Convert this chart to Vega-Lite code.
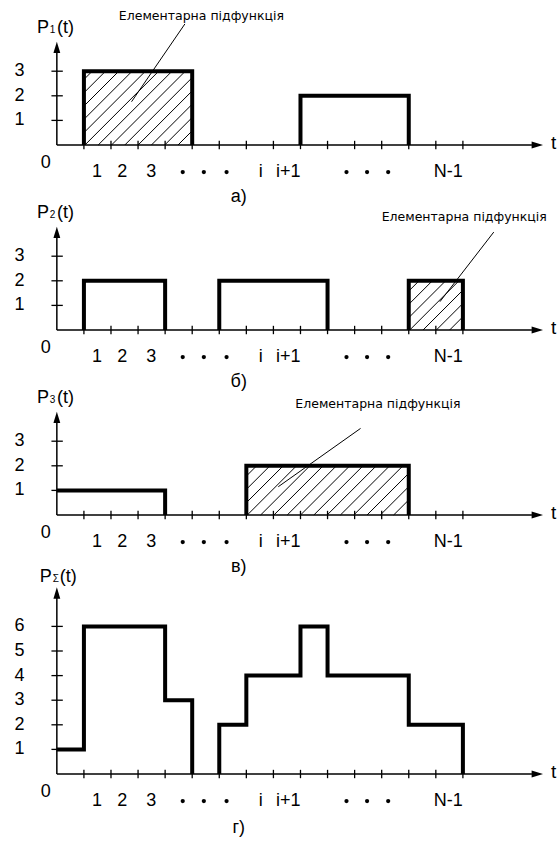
{
"$schema":"https://vega.github.io/schema/vega-lite/v6.json",
"padding":0,
"background":"white",
"spacing":0,
"bounds":"flush",
"config":{"view":{"stroke":null},"axis":{"disable":true},"text":{"font":"Liberation Sans","color":"black"},"rule":{"color":"black"},"line":{"color":"black"}},
"datasets":{
"pulse":[
{"panel":"a","seg":1,"ord":1,"t":1,"p":0},{"panel":"a","seg":1,"ord":2,"t":1,"p":3},{"panel":"a","seg":1,"ord":3,"t":5,"p":3},{"panel":"a","seg":1,"ord":4,"t":5,"p":0},
{"panel":"a","seg":2,"ord":1,"t":9,"p":0},{"panel":"a","seg":2,"ord":2,"t":9,"p":2},{"panel":"a","seg":2,"ord":3,"t":13,"p":2},{"panel":"a","seg":2,"ord":4,"t":13,"p":0},
{"panel":"b","seg":1,"ord":1,"t":1,"p":0},{"panel":"b","seg":1,"ord":2,"t":1,"p":2},{"panel":"b","seg":1,"ord":3,"t":4,"p":2},{"panel":"b","seg":1,"ord":4,"t":4,"p":0},
{"panel":"b","seg":2,"ord":1,"t":6,"p":0},{"panel":"b","seg":2,"ord":2,"t":6,"p":2},{"panel":"b","seg":2,"ord":3,"t":10,"p":2},{"panel":"b","seg":2,"ord":4,"t":10,"p":0},
{"panel":"b","seg":3,"ord":1,"t":13,"p":0},{"panel":"b","seg":3,"ord":2,"t":13,"p":2},{"panel":"b","seg":3,"ord":3,"t":15,"p":2},{"panel":"b","seg":3,"ord":4,"t":15,"p":0},
{"panel":"c","seg":1,"ord":1,"t":0,"p":1},{"panel":"c","seg":1,"ord":2,"t":4,"p":1},{"panel":"c","seg":1,"ord":3,"t":4,"p":0},
{"panel":"c","seg":2,"ord":1,"t":7,"p":0},{"panel":"c","seg":2,"ord":2,"t":7,"p":2},{"panel":"c","seg":2,"ord":3,"t":13,"p":2},{"panel":"c","seg":2,"ord":4,"t":13,"p":0},
{"panel":"d","seg":1,"ord":1,"t":0,"p":1},{"panel":"d","seg":1,"ord":2,"t":1,"p":1},{"panel":"d","seg":1,"ord":3,"t":1,"p":6},{"panel":"d","seg":1,"ord":4,"t":4,"p":6},{"panel":"d","seg":1,"ord":5,"t":4,"p":3},{"panel":"d","seg":1,"ord":6,"t":5,"p":3},{"panel":"d","seg":1,"ord":7,"t":5,"p":0},
{"panel":"d","seg":2,"ord":1,"t":6,"p":0},{"panel":"d","seg":2,"ord":2,"t":6,"p":2},{"panel":"d","seg":2,"ord":3,"t":7,"p":2},{"panel":"d","seg":2,"ord":4,"t":7,"p":4},{"panel":"d","seg":2,"ord":5,"t":9,"p":4},{"panel":"d","seg":2,"ord":6,"t":9,"p":6},{"panel":"d","seg":2,"ord":7,"t":10,"p":6},{"panel":"d","seg":2,"ord":8,"t":10,"p":4},{"panel":"d","seg":2,"ord":9,"t":13,"p":4},{"panel":"d","seg":2,"ord":10,"t":13,"p":2},{"panel":"d","seg":2,"ord":11,"t":15,"p":2},{"panel":"d","seg":2,"ord":12,"t":15,"p":0}
],
"hatch":[
{"panel":"a","t":1,"p":2.663,"t2":1.307,"p2":3},
{"panel":"a","t":1,"p":2.122,"t2":1.798,"p2":3},
{"panel":"a","t":1,"p":1.581,"t2":2.289,"p2":3},
{"panel":"a","t":1,"p":1.041,"t2":2.781,"p2":3},
{"panel":"a","t":1,"p":0.5,"t2":3.272,"p2":3},
{"panel":"a","t":1.037,"p":0,"t2":3.763,"p2":3},
{"panel":"a","t":1.528,"p":0,"t2":4.255,"p2":3},
{"panel":"a","t":2.02,"p":0,"t2":4.746,"p2":3},
{"panel":"a","t":2.511,"p":0,"t2":5,"p2":2.74},
{"panel":"a","t":3.002,"p":0,"t2":5,"p2":2.199},
{"panel":"a","t":3.494,"p":0,"t2":5,"p2":1.659},
{"panel":"a","t":3.985,"p":0,"t2":5,"p2":1.118},
{"panel":"a","t":4.476,"p":0,"t2":5,"p2":0.577},
{"panel":"b","t":13,"p":1.581,"t2":13.38,"p2":2},
{"panel":"b","t":13,"p":1.041,"t2":13.872,"p2":2},
{"panel":"b","t":13,"p":0.5,"t2":14.363,"p2":2},
{"panel":"b","t":13.037,"p":0,"t2":14.854,"p2":2},
{"panel":"b","t":13.528,"p":0,"t2":15,"p2":1.62},
{"panel":"b","t":14.02,"p":0,"t2":15,"p2":1.079},
{"panel":"b","t":14.511,"p":0,"t2":15,"p2":0.538},
{"panel":"c","t":7,"p":1.581,"t2":7.38,"p2":2},
{"panel":"c","t":7,"p":1.041,"t2":7.872,"p2":2},
{"panel":"c","t":7,"p":0.5,"t2":8.363,"p2":2},
{"panel":"c","t":7.037,"p":0,"t2":8.854,"p2":2},
{"panel":"c","t":7.528,"p":0,"t2":9.346,"p2":2},
{"panel":"c","t":8.02,"p":0,"t2":9.837,"p2":2},
{"panel":"c","t":8.511,"p":0,"t2":10.328,"p2":2},
{"panel":"c","t":9.002,"p":0,"t2":10.82,"p2":2},
{"panel":"c","t":9.494,"p":0,"t2":11.311,"p2":2},
{"panel":"c","t":9.985,"p":0,"t2":11.802,"p2":2},
{"panel":"c","t":10.476,"p":0,"t2":12.294,"p2":2},
{"panel":"c","t":10.968,"p":0,"t2":12.785,"p2":2},
{"panel":"c","t":11.459,"p":0,"t2":13,"p2":1.695},
{"panel":"c","t":11.95,"p":0,"t2":13,"p2":1.154},
{"panel":"c","t":12.441,"p":0,"t2":13,"p2":0.614}
],
"xticks":[{"t":1},{"t":2},{"t":3},{"t":4},{"t":5},{"t":6},{"t":7},{"t":8},{"t":9},{"t":10},{"t":11},{"t":12},{"t":13},{"t":14},{"t":15}],
"xlabels":[{"label":"1","t":1.48},{"label":"2","t":2.42},{"label":"3","t":3.49},{"label":"i","t":7.53},{"label":"i+1","t":8.55},{"label":"N-1","t":14.46}],
"dots":[{"t":4.65},{"t":5.43},{"t":6.27},{"t":10.7},{"t":11.46},{"t":12.24}],
"yticks":[
{"panel":"a","p":1},{"panel":"a","p":2},{"panel":"a","p":3},
{"panel":"b","p":1},{"panel":"b","p":2},{"panel":"b","p":3},
{"panel":"c","p":1},{"panel":"c","p":2},{"panel":"c","p":3},
{"panel":"d","p":1},{"panel":"d","p":2},{"panel":"d","p":3},{"panel":"d","p":4},{"panel":"d","p":5},{"panel":"d","p":6}
],
"notes":[
{"panel":"a","label":"Елементарна підфункція","t":5.34,"p":5.24,"lt":4.73,"lp":4.92,"lt2":2.76,"lp2":1.76},
{"panel":"b","label":"Елементарна підфункція","t":15.05,"p":4.59,"lt":16.14,"lp":3.98,"lt2":14.15,"lp2":1.15},
{"panel":"c","label":"Елементарна підфункція","t":11.86,"p":4.51,"lt":11.22,"lp":3.52,"lt2":8.18,"lp2":1.15}
]
},
"vconcat":[
{
"width":559,"height":200,
"data":{"values":[{}]},
"layer":[
{"mark":{"type":"rule","strokeWidth":1.5},"encoding":{"x":{"datum":0,"type":"quantitative","scale":{"domain":[-2.1,18.55],"nice":false,"zero":false}},"x2":{"datum":17.55},"y":{"datum":0,"type":"quantitative","scale":{"domain":[-2.2358,5.8943],"nice":false,"zero":false}}}},
{"mark":{"type":"point","shape":"M-1,-0.6L1,0L-1,0.6Z","filled":true,"size":130,"color":"black","opacity":1,"strokeWidth":0},"encoding":{"x":{"datum":17.75,"type":"quantitative"},"y":{"datum":0,"type":"quantitative"}}},
{"mark":{"type":"rule","strokeWidth":1.5},"encoding":{"x":{"datum":0,"type":"quantitative"},"y":{"datum":0,"type":"quantitative"},"y2":{"datum":3.76}}},
{"mark":{"type":"point","shape":"M-0.6,1L0,-1L0.6,1Z","filled":true,"size":130,"color":"black","opacity":1,"strokeWidth":0},"encoding":{"x":{"datum":0,"type":"quantitative"},"y":{"datum":3.97,"type":"quantitative"}}},
{"data":{"name":"xticks"},"mark":{"type":"rule","strokeWidth":1.3},"encoding":{"x":{"field":"t","type":"quantitative"},"y":{"datum":-0.17,"type":"quantitative"},"y2":{"datum":0.17}}},
{"data":{"name":"yticks"},"transform":[{"filter":"datum.panel==='a'"}],"mark":{"type":"rule","strokeWidth":1.3},"encoding":{"y":{"field":"p","type":"quantitative"},"x":{"datum":-0.2,"type":"quantitative"},"x2":{"datum":0.22}}},
{"data":{"name":"yticks"},"transform":[{"filter":"datum.panel==='a'"}],"mark":{"type":"text","fontSize":18,"align":"center","baseline":"middle"},"encoding":{"y":{"field":"p","type":"quantitative"},"x":{"datum":-1.38,"type":"quantitative"},"text":{"field":"p","type":"quantitative"}}},
{"data":{"name":"xlabels"},"mark":{"type":"text","fontSize":18,"align":"center","baseline":"middle"},"encoding":{"x":{"field":"t","type":"quantitative"},"y":{"datum":-1.1,"type":"quantitative"},"text":{"field":"label"}}},
{"data":{"name":"dots"},"mark":{"type":"point","shape":"circle","filled":true,"size":18,"color":"black","opacity":1,"strokeWidth":0},"encoding":{"x":{"field":"t","type":"quantitative"},"y":{"datum":-1.1,"type":"quantitative"}}},
{"mark":{"type":"text","text":"0","fontSize":18,"align":"center","baseline":"middle"},"encoding":{"x":{"datum":-0.41,"type":"quantitative"},"y":{"datum":-0.74,"type":"quantitative"}}},
{"mark":{"type":"text","text":"t","fontSize":19,"align":"left","baseline":"middle"},"encoding":{"x":{"datum":18.25,"type":"quantitative"},"y":{"datum":0.1,"type":"quantitative"}}},
{"mark":{"type":"text","text":"P","fontSize":18,"align":"left","baseline":"alphabetic"},"encoding":{"x":{"datum":-0.73,"type":"quantitative"},"y":{"datum":4.54,"type":"quantitative"}}},
{"mark":{"type":"text","text":"1","fontSize":10,"align":"left","baseline":"alphabetic"},"encoding":{"x":{"datum":-0.26,"type":"quantitative"},"y":{"datum":4.54,"type":"quantitative"}}},
{"mark":{"type":"text","text":"(t)","fontSize":18,"align":"left","baseline":"alphabetic"},"encoding":{"x":{"datum":0.01,"type":"quantitative"},"y":{"datum":4.54,"type":"quantitative"}}},
{"mark":{"type":"text","text":"а)","fontSize":18,"align":"center","baseline":"middle"},"encoding":{"x":{"datum":6.72,"type":"quantitative"},"y":{"datum":-2.1,"type":"quantitative"}}},
{"data":{"name":"hatch"},"transform":[{"filter":"datum.panel==='a'"}],"mark":{"type":"rule","strokeWidth":1},"encoding":{"x":{"field":"t","type":"quantitative"},"y":{"field":"p","type":"quantitative"},"x2":{"field":"t2"},"y2":{"field":"p2"}}},
{"data":{"name":"pulse"},"transform":[{"filter":"datum.panel==='a'"}],"mark":{"type":"line","strokeWidth":4,"strokeJoin":"miter","strokeCap":"butt"},"encoding":{"x":{"field":"t","type":"quantitative"},"y":{"field":"p","type":"quantitative"},"detail":{"field":"seg"},"order":{"field":"ord"}}},
{"data":{"name":"notes"},"transform":[{"filter":"datum.panel==='a'"}],"mark":{"type":"rule","strokeWidth":1},"encoding":{"x":{"field":"lt","type":"quantitative"},"y":{"field":"lp","type":"quantitative"},"x2":{"field":"lt2"},"y2":{"field":"lp2"}}},
{"data":{"name":"notes"},"transform":[{"filter":"datum.panel==='a'"}],"mark":{"type":"text","font":"DejaVu Sans","fontSize":12.5,"align":"center","baseline":"middle"},"encoding":{"x":{"field":"t","type":"quantitative"},"y":{"field":"p","type":"quantitative"},"text":{"field":"label"}}}
]
},
{
"width":559,"height":185,
"data":{"values":[{}]},
"layer":[
{"mark":{"type":"rule","strokeWidth":1.5},"encoding":{"x":{"datum":0,"type":"quantitative","scale":{"domain":[-2.1,18.55],"nice":false,"zero":false}},"x2":{"datum":17.55},"y":{"datum":0,"type":"quantitative","scale":{"domain":[-2.2358,5.2846],"nice":false,"zero":false}}}},
{"mark":{"type":"point","shape":"M-1,-0.6L1,0L-1,0.6Z","filled":true,"size":130,"color":"black","opacity":1,"strokeWidth":0},"encoding":{"x":{"datum":17.75,"type":"quantitative"},"y":{"datum":0,"type":"quantitative"}}},
{"mark":{"type":"rule","strokeWidth":1.5},"encoding":{"x":{"datum":0,"type":"quantitative"},"y":{"datum":0,"type":"quantitative"},"y2":{"datum":3.76}}},
{"mark":{"type":"point","shape":"M-0.6,1L0,-1L0.6,1Z","filled":true,"size":130,"color":"black","opacity":1,"strokeWidth":0},"encoding":{"x":{"datum":0,"type":"quantitative"},"y":{"datum":3.97,"type":"quantitative"}}},
{"data":{"name":"xticks"},"mark":{"type":"rule","strokeWidth":1.3},"encoding":{"x":{"field":"t","type":"quantitative"},"y":{"datum":-0.17,"type":"quantitative"},"y2":{"datum":0.17}}},
{"data":{"name":"yticks"},"transform":[{"filter":"datum.panel==='b'"}],"mark":{"type":"rule","strokeWidth":1.3},"encoding":{"y":{"field":"p","type":"quantitative"},"x":{"datum":-0.2,"type":"quantitative"},"x2":{"datum":0.22}}},
{"data":{"name":"yticks"},"transform":[{"filter":"datum.panel==='b'"}],"mark":{"type":"text","fontSize":18,"align":"center","baseline":"middle"},"encoding":{"y":{"field":"p","type":"quantitative"},"x":{"datum":-1.38,"type":"quantitative"},"text":{"field":"p","type":"quantitative"}}},
{"data":{"name":"xlabels"},"mark":{"type":"text","fontSize":18,"align":"center","baseline":"middle"},"encoding":{"x":{"field":"t","type":"quantitative"},"y":{"datum":-1.1,"type":"quantitative"},"text":{"field":"label"}}},
{"data":{"name":"dots"},"mark":{"type":"point","shape":"circle","filled":true,"size":18,"color":"black","opacity":1,"strokeWidth":0},"encoding":{"x":{"field":"t","type":"quantitative"},"y":{"datum":-1.1,"type":"quantitative"}}},
{"mark":{"type":"text","text":"0","fontSize":18,"align":"center","baseline":"middle"},"encoding":{"x":{"datum":-0.41,"type":"quantitative"},"y":{"datum":-0.74,"type":"quantitative"}}},
{"mark":{"type":"text","text":"t","fontSize":19,"align":"left","baseline":"middle"},"encoding":{"x":{"datum":18.25,"type":"quantitative"},"y":{"datum":0.1,"type":"quantitative"}}},
{"mark":{"type":"text","text":"P","fontSize":18,"align":"left","baseline":"alphabetic"},"encoding":{"x":{"datum":-0.73,"type":"quantitative"},"y":{"datum":4.54,"type":"quantitative"}}},
{"mark":{"type":"text","text":"2","fontSize":10,"align":"left","baseline":"alphabetic"},"encoding":{"x":{"datum":-0.26,"type":"quantitative"},"y":{"datum":4.54,"type":"quantitative"}}},
{"mark":{"type":"text","text":"(t)","fontSize":18,"align":"left","baseline":"alphabetic"},"encoding":{"x":{"datum":0.01,"type":"quantitative"},"y":{"datum":4.54,"type":"quantitative"}}},
{"mark":{"type":"text","text":"б)","fontSize":18,"align":"center","baseline":"middle"},"encoding":{"x":{"datum":6.72,"type":"quantitative"},"y":{"datum":-2.1,"type":"quantitative"}}},
{"data":{"name":"hatch"},"transform":[{"filter":"datum.panel==='b'"}],"mark":{"type":"rule","strokeWidth":1},"encoding":{"x":{"field":"t","type":"quantitative"},"y":{"field":"p","type":"quantitative"},"x2":{"field":"t2"},"y2":{"field":"p2"}}},
{"data":{"name":"pulse"},"transform":[{"filter":"datum.panel==='b'"}],"mark":{"type":"line","strokeWidth":4,"strokeJoin":"miter","strokeCap":"butt"},"encoding":{"x":{"field":"t","type":"quantitative"},"y":{"field":"p","type":"quantitative"},"detail":{"field":"seg"},"order":{"field":"ord"}}},
{"data":{"name":"notes"},"transform":[{"filter":"datum.panel==='b'"}],"mark":{"type":"rule","strokeWidth":1},"encoding":{"x":{"field":"lt","type":"quantitative"},"y":{"field":"lp","type":"quantitative"},"x2":{"field":"lt2"},"y2":{"field":"lp2"}}},
{"data":{"name":"notes"},"transform":[{"filter":"datum.panel==='b'"}],"mark":{"type":"text","font":"DejaVu Sans","fontSize":12.5,"align":"center","baseline":"middle"},"encoding":{"x":{"field":"t","type":"quantitative"},"y":{"field":"p","type":"quantitative"},"text":{"field":"label"}}}
]
},
{
"width":559,"height":185,
"data":{"values":[{}]},
"layer":[
{"mark":{"type":"rule","strokeWidth":1.5},"encoding":{"x":{"datum":0,"type":"quantitative","scale":{"domain":[-2.1,18.55],"nice":false,"zero":false}},"x2":{"datum":17.55},"y":{"datum":0,"type":"quantitative","scale":{"domain":[-2.2358,5.2846],"nice":false,"zero":false}}}},
{"mark":{"type":"point","shape":"M-1,-0.6L1,0L-1,0.6Z","filled":true,"size":130,"color":"black","opacity":1,"strokeWidth":0},"encoding":{"x":{"datum":17.75,"type":"quantitative"},"y":{"datum":0,"type":"quantitative"}}},
{"mark":{"type":"rule","strokeWidth":1.5},"encoding":{"x":{"datum":0,"type":"quantitative"},"y":{"datum":0,"type":"quantitative"},"y2":{"datum":3.76}}},
{"mark":{"type":"point","shape":"M-0.6,1L0,-1L0.6,1Z","filled":true,"size":130,"color":"black","opacity":1,"strokeWidth":0},"encoding":{"x":{"datum":0,"type":"quantitative"},"y":{"datum":3.97,"type":"quantitative"}}},
{"data":{"name":"xticks"},"mark":{"type":"rule","strokeWidth":1.3},"encoding":{"x":{"field":"t","type":"quantitative"},"y":{"datum":-0.17,"type":"quantitative"},"y2":{"datum":0.17}}},
{"data":{"name":"yticks"},"transform":[{"filter":"datum.panel==='c'"}],"mark":{"type":"rule","strokeWidth":1.3},"encoding":{"y":{"field":"p","type":"quantitative"},"x":{"datum":-0.2,"type":"quantitative"},"x2":{"datum":0.22}}},
{"data":{"name":"yticks"},"transform":[{"filter":"datum.panel==='c'"}],"mark":{"type":"text","fontSize":18,"align":"center","baseline":"middle"},"encoding":{"y":{"field":"p","type":"quantitative"},"x":{"datum":-1.38,"type":"quantitative"},"text":{"field":"p","type":"quantitative"}}},
{"data":{"name":"xlabels"},"mark":{"type":"text","fontSize":18,"align":"center","baseline":"middle"},"encoding":{"x":{"field":"t","type":"quantitative"},"y":{"datum":-1.1,"type":"quantitative"},"text":{"field":"label"}}},
{"data":{"name":"dots"},"mark":{"type":"point","shape":"circle","filled":true,"size":18,"color":"black","opacity":1,"strokeWidth":0},"encoding":{"x":{"field":"t","type":"quantitative"},"y":{"datum":-1.1,"type":"quantitative"}}},
{"mark":{"type":"text","text":"0","fontSize":18,"align":"center","baseline":"middle"},"encoding":{"x":{"datum":-0.41,"type":"quantitative"},"y":{"datum":-0.74,"type":"quantitative"}}},
{"mark":{"type":"text","text":"t","fontSize":19,"align":"left","baseline":"middle"},"encoding":{"x":{"datum":18.25,"type":"quantitative"},"y":{"datum":0.1,"type":"quantitative"}}},
{"mark":{"type":"text","text":"P","fontSize":18,"align":"left","baseline":"alphabetic"},"encoding":{"x":{"datum":-0.73,"type":"quantitative"},"y":{"datum":4.54,"type":"quantitative"}}},
{"mark":{"type":"text","text":"3","fontSize":10,"align":"left","baseline":"alphabetic"},"encoding":{"x":{"datum":-0.26,"type":"quantitative"},"y":{"datum":4.54,"type":"quantitative"}}},
{"mark":{"type":"text","text":"(t)","fontSize":18,"align":"left","baseline":"alphabetic"},"encoding":{"x":{"datum":0.01,"type":"quantitative"},"y":{"datum":4.54,"type":"quantitative"}}},
{"mark":{"type":"text","text":"в)","fontSize":18,"align":"center","baseline":"middle"},"encoding":{"x":{"datum":6.72,"type":"quantitative"},"y":{"datum":-2.1,"type":"quantitative"}}},
{"data":{"name":"hatch"},"transform":[{"filter":"datum.panel==='c'"}],"mark":{"type":"rule","strokeWidth":1},"encoding":{"x":{"field":"t","type":"quantitative"},"y":{"field":"p","type":"quantitative"},"x2":{"field":"t2"},"y2":{"field":"p2"}}},
{"data":{"name":"pulse"},"transform":[{"filter":"datum.panel==='c'"}],"mark":{"type":"line","strokeWidth":4,"strokeJoin":"miter","strokeCap":"butt"},"encoding":{"x":{"field":"t","type":"quantitative"},"y":{"field":"p","type":"quantitative"},"detail":{"field":"seg"},"order":{"field":"ord"}}},
{"data":{"name":"notes"},"transform":[{"filter":"datum.panel==='c'"}],"mark":{"type":"rule","strokeWidth":1},"encoding":{"x":{"field":"lt","type":"quantitative"},"y":{"field":"lp","type":"quantitative"},"x2":{"field":"lt2"},"y2":{"field":"lp2"}}},
{"data":{"name":"notes"},"transform":[{"filter":"datum.panel==='c'"}],"mark":{"type":"text","font":"DejaVu Sans","fontSize":12.5,"align":"center","baseline":"middle"},"encoding":{"x":{"field":"t","type":"quantitative"},"y":{"field":"p","type":"quantitative"},"text":{"field":"label"}}}
]
},
{
"width":559,"height":277,
"data":{"values":[{}]},
"layer":[
{"mark":{"type":"rule","strokeWidth":1.5},"encoding":{"x":{"datum":0,"type":"quantitative","scale":{"domain":[-2.1,18.55],"nice":false,"zero":false}},"x2":{"datum":17.55},"y":{"datum":0,"type":"quantitative","scale":{"domain":[-2.9675,8.2927],"nice":false,"zero":false}}}},
{"mark":{"type":"point","shape":"M-1,-0.6L1,0L-1,0.6Z","filled":true,"size":130,"color":"black","opacity":1,"strokeWidth":0},"encoding":{"x":{"datum":17.75,"type":"quantitative"},"y":{"datum":0,"type":"quantitative"}}},
{"mark":{"type":"rule","strokeWidth":1.5},"encoding":{"x":{"datum":0,"type":"quantitative"},"y":{"datum":0,"type":"quantitative"},"y2":{"datum":7.15}}},
{"mark":{"type":"point","shape":"M-0.6,1L0,-1L0.6,1Z","filled":true,"size":130,"color":"black","opacity":1,"strokeWidth":0},"encoding":{"x":{"datum":0,"type":"quantitative"},"y":{"datum":7.36,"type":"quantitative"}}},
{"data":{"name":"xticks"},"mark":{"type":"rule","strokeWidth":1.3},"encoding":{"x":{"field":"t","type":"quantitative"},"y":{"datum":-0.17,"type":"quantitative"},"y2":{"datum":0.17}}},
{"data":{"name":"yticks"},"transform":[{"filter":"datum.panel==='d'"}],"mark":{"type":"rule","strokeWidth":1.3},"encoding":{"y":{"field":"p","type":"quantitative"},"x":{"datum":-0.2,"type":"quantitative"},"x2":{"datum":0.22}}},
{"data":{"name":"yticks"},"transform":[{"filter":"datum.panel==='d'"}],"mark":{"type":"text","fontSize":18,"align":"center","baseline":"middle"},"encoding":{"y":{"field":"p","type":"quantitative"},"x":{"datum":-1.38,"type":"quantitative"},"text":{"field":"p","type":"quantitative"}}},
{"data":{"name":"xlabels"},"mark":{"type":"text","fontSize":18,"align":"center","baseline":"middle"},"encoding":{"x":{"field":"t","type":"quantitative"},"y":{"datum":-1.1,"type":"quantitative"},"text":{"field":"label"}}},
{"data":{"name":"dots"},"mark":{"type":"point","shape":"circle","filled":true,"size":18,"color":"black","opacity":1,"strokeWidth":0},"encoding":{"x":{"field":"t","type":"quantitative"},"y":{"datum":-1.1,"type":"quantitative"}}},
{"mark":{"type":"text","text":"0","fontSize":18,"align":"center","baseline":"middle"},"encoding":{"x":{"datum":-0.41,"type":"quantitative"},"y":{"datum":-0.74,"type":"quantitative"}}},
{"mark":{"type":"text","text":"t","fontSize":19,"align":"left","baseline":"middle"},"encoding":{"x":{"datum":18.25,"type":"quantitative"},"y":{"datum":0.1,"type":"quantitative"}}},
{"mark":{"type":"text","text":"P","fontSize":18,"align":"left","baseline":"alphabetic"},"encoding":{"x":{"datum":-0.63,"type":"quantitative"},"y":{"datum":7.8,"type":"quantitative"}}},
{"mark":{"type":"text","text":"Σ","fontSize":10,"align":"left","baseline":"alphabetic"},"encoding":{"x":{"datum":-0.15,"type":"quantitative"},"y":{"datum":7.8,"type":"quantitative"}}},
{"mark":{"type":"text","text":"(t)","fontSize":18,"align":"left","baseline":"alphabetic"},"encoding":{"x":{"datum":0.11,"type":"quantitative"},"y":{"datum":7.8,"type":"quantitative"}}},
{"mark":{"type":"text","text":"г)","fontSize":18,"align":"center","baseline":"middle"},"encoding":{"x":{"datum":6.72,"type":"quantitative"},"y":{"datum":-2.2,"type":"quantitative"}}},
{"data":{"name":"pulse"},"transform":[{"filter":"datum.panel==='d'"}],"mark":{"type":"line","strokeWidth":4,"strokeJoin":"miter","strokeCap":"butt"},"encoding":{"x":{"field":"t","type":"quantitative"},"y":{"field":"p","type":"quantitative"},"detail":{"field":"seg"},"order":{"field":"ord"}}}
]
}
]
}
